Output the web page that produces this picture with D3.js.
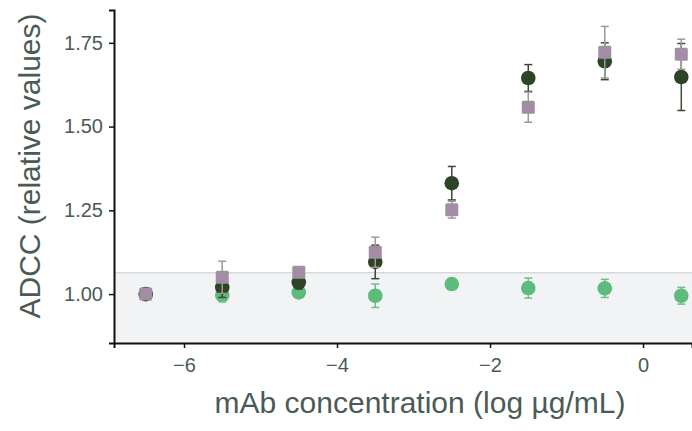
<!DOCTYPE html>
<html>
<head>
<meta charset="utf-8">
<script src="https://cdn.jsdelivr.net/npm/d3@7"></script>
<style>
  body { margin: 0; background: #fff; }
  text { font-family: "Liberation Sans", Arial, sans-serif; }
</style>
</head>
<body>
<div id="chart"></div>
<script>
// log concentrations
const doses = [-6.5, -5.5, -4.5, -3.5, -2.5, -1.5, -0.5, 0.5];

// green circles
const greenVals = [1.0, 0.997, 1.005, 0.995, 1.03, 1.018, 1.017, 0.995];
const greenErr = [0, 0.02, 0.015, 0.035, 0.01, 0.03, 0.027, 0.025];
// dark circles
const darkVals = [1.0, 1.02, 1.035, 1.096, 1.331, 1.645, 1.695, 1.648];
const darkErr = [0, 0.03, 0.02, 0.05, 0.05, 0.04, 0.055, 0.1];
// mauve squares
const mauveVals = [1.0, 1.05, 1.065, 1.125, 1.252, 1.558, 1.722, 1.716];
const mauveErr = [0, 0.048, 0.01, 0.045, 0.025, 0.045, 0.077, 0.045];

const bandTop = 1.0636;
const xTicks = [-6, -4, -2, 0];
const yTicks = [1.0, 1.25, 1.5, 1.75];

const width = 692, height = 431;
const margin = { top: 10, right: 0, bottom: 88, left: 114 };
const textColor = "#4a5b55";

const svg = d3.select("#chart").append("svg")
  .attr("width", width)
  .attr("height", height);

const x = d3.scaleLinear().domain([-6.915, 0.64])
  .range([margin.left, width - margin.right]);
const y = d3.scaleLinear().domain([0.854, 1.848])
  .range([height - margin.bottom, margin.top]);

// shaded reference band
svg.append("rect")
  .attr("x", margin.left)
  .attr("y", y(bandTop))
  .attr("width", width - margin.right - margin.left)
  .attr("height", y(y.domain()[0]) - y(bandTop))
  .attr("fill", "#f2f3f5");
svg.append("line")
  .attr("x1", margin.left).attr("x2", width - margin.right)
  .attr("y1", y(bandTop)).attr("y2", y(bandTop))
  .attr("stroke", "#c9cacb").attr("stroke-width", 1);

const series = [
  { vals: greenVals, err: greenErr, fill: "#5dbb7b", bar: "#6cc088", shape: "circle" },
  { vals: darkVals, err: darkErr, fill: "#2e4426", bar: "#3b4a36", shape: "circle" },
  { vals: mauveVals, err: mauveErr, fill: "#a28da4", bar: "#9a9a9a", shape: "square" }
];

series.forEach((s) => {
  const g = svg.append("g");
  const rows = doses.map((d, i) => ({ d, v: s.vals[i], e: s.err[i] }));
  const eb = g.selectAll(".eb").data(rows.filter((r) => r.e > 0)).join("g")
    .attr("stroke", s.bar).attr("stroke-width", 1.5);
  eb.append("line")
    .attr("x1", (r) => x(r.d)).attr("x2", (r) => x(r.d))
    .attr("y1", (r) => y(r.v - r.e)).attr("y2", (r) => y(r.v + r.e));
  [-1, 1].forEach((sign) => {
    eb.append("line")
      .attr("x1", (r) => x(r.d) - 4).attr("x2", (r) => x(r.d) + 4)
      .attr("y1", (r) => y(r.v + sign * r.e)).attr("y2", (r) => y(r.v + sign * r.e));
  });
  if (s.shape === "circle") {
    g.selectAll("circle").data(rows).join("circle")
      .attr("cx", (r) => x(r.d)).attr("cy", (r) => y(r.v))
      .attr("r", 7.3).attr("fill", s.fill);
  } else {
    g.selectAll("rect").data(rows).join("rect")
      .attr("x", (r) => x(r.d) - 6.5).attr("y", (r) => y(r.v) - 6.5)
      .attr("width", 13).attr("height", 13)
      .attr("rx", 1.5)
      .attr("fill", s.fill);
  }
});

// axes
const xAxis = svg.append("g")
  .attr("transform", `translate(0,${height - margin.bottom})`)
  .call(d3.axisBottom(x).tickValues(xTicks).tickFormat(d3.format("d")).tickSizeOuter(0).tickSize(5).tickPadding(10));
const yAxis = svg.append("g")
  .attr("transform", `translate(${margin.left},0)`)
  .call(d3.axisLeft(y).tickValues(yTicks).tickFormat(d3.format(".2f")).tickSizeOuter(0).tickSize(5).tickPadding(6));

[xAxis, yAxis].forEach((a) => {
  a.select(".domain").attr("stroke", "#111").attr("stroke-width", 2);
  a.selectAll(".tick line").attr("stroke", "#111").attr("stroke-width", 1.5);
  a.selectAll(".tick text").attr("fill", textColor).style("font-size", "20px");
});

svg.append("text")
  .attr("x", 420).attr("y", 413)
  .attr("text-anchor", "middle")
  .attr("fill", textColor)
  .style("font-size", "30px")
  .text("mAb concentration (log µg/mL)");

svg.append("text")
  .attr("transform", "translate(40,166) rotate(-90)")
  .attr("text-anchor", "middle")
  .attr("fill", textColor)
  .style("font-size", "30px")
  .text("ADCC (relative values)");
</script>
</body>
</html>
